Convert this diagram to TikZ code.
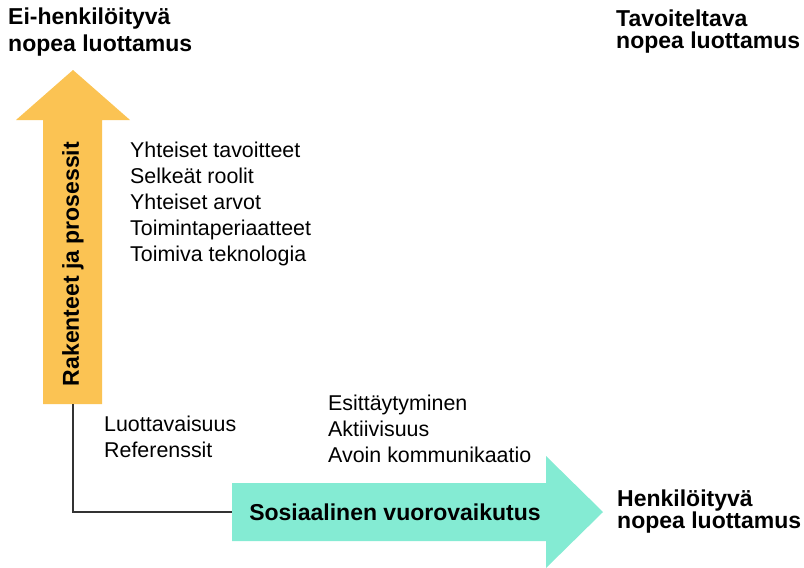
\documentclass[tikz,border=0pt]{standalone}
\usepackage{fontspec}
\setmainfont{Liberation Sans}
\usetikzlibrary{positioning}

\definecolor{rakcol}{HTML}{FBC353}
\definecolor{soscol}{HTML}{84EBD3}
\definecolor{linecol}{HTML}{333333}

\begin{document}
\begin{tikzpicture}[
    x=1pt, y=-1pt,
    title/.style={font=\fontsize{23}{26}\selectfont\bfseries, align=left, anchor=base west, inner sep=0pt},
    item/.style={font=\fontsize{21.4}{26}\selectfont, anchor=base west, inner sep=0pt},
    barlabel/.style={font=\fontsize{23}{26}\selectfont\bfseries, inner sep=0pt}
]
\useasboundingbox (0,0) rectangle (804,568);

% Arrows
\fill[rakcol] (43,404) -- (43,120) -- (16,120) -- (73,70) -- (130,120) -- (102,120) -- (102,404) -- cycle;
\fill[soscol] (232,483) -- (546,483) -- (546,456) -- (603,512) -- (546,568) -- (546,541) -- (232,541) -- cycle;
\node[barlabel, rotate=90] (rak) at (73,264) {Rakenteet ja prosessit};
\node[barlabel] (sos) at (395,512) {Sosiaalinen vuorovaikutus};

% Corner link
\coordinate (rakend) at (73,404);
\coordinate (sosend) at (232,512);
\draw[linecol, line width=1.2pt] (rakend) |- (sosend);

% Corner titles (base = last line)
\node[title] (eihenk) at (8,51) {Ei-henkilöityvä\\[1pt]nopea luottamus};
\node[title] (tavoite) at (616,48) {Tavoiteltava\\[-4pt]nopea luottamus};
\node[title] (henk) at (617,528) {Henkilöityvä\\[-4pt]nopea luottamus};

% Lists
\foreach \txt [count=\i] in {Yhteiset tavoitteet, Selkeät roolit, Yhteiset arvot, Toimintaperiaatteet, Toimiva teknologia}
  \node[item] (goal\i) at (130,131+26*\i) {\txt};
\foreach \txt [count=\i] in {Luottavaisuus, Referenssit}
  \node[item] (trust\i) at (104,405+26*\i) {\txt};
\foreach \txt [count=\i] in {Esittäytyminen, Aktiivisuus, Avoin kommunikaatio}
  \node[item] (social\i) at (328,384+26*\i) {\txt};

\end{tikzpicture}
\end{document}
